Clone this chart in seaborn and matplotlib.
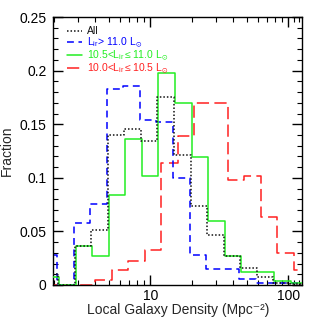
import numpy as np
import matplotlib
matplotlib.use("Agg")
import matplotlib.pyplot as plt
from matplotlib.ticker import FixedLocator, NullFormatter, FixedFormatter
import seaborn as sns

# ---- data (log10 of local galaxy density bin edges, and fractions per bin) ----
log_edges = [0.216, 0.336, 0.456, 0.576, 0.696, 0.816, 0.936, 1.056, 1.176,
             1.296, 1.416, 1.536, 1.656, 1.776, 1.896, 2.016, 2.136]
red_log_edges = [0.24, 0.36, 0.48, 0.60, 0.72, 0.84, 0.96, 1.08, 1.20, 1.32,
                 1.44, 1.56, 1.68, 1.80, 1.92, 2.04, 2.16]

frac_all = [0.010, 0.0, 0.0367, 0.0513, 0.140, 0.146, 0.1346, 0.175, 0.121,
            0.0735, 0.047, 0.027, 0.0155, 0.0078, 0.002, 0.001]
frac_hi = [0.028, 0.0, 0.058, 0.0756, 0.183, 0.186, 0.154, 0.152, 0.100,
           0.028, 0.0146, 0.0146, 0.0053, 0.0017, 0.0017, 0.0017]
frac_mid = [0.0077, 0.0, 0.0367, 0.0273, 0.084, 0.136, 0.102, 0.1975, 0.170,
            0.119, 0.060, 0.0273, 0.012, 0.012, 0.004, 0.0016]
frac_lo = [0.0, 0.0, 0.0, 0.0047, 0.014, 0.0224, 0.0327, 0.1135, 0.139, 0.170,
           0.170, 0.098, 0.102, 0.063, 0.030, 0.014]

series_labels = ["All",
                 r"L$_{ir}$> 11.0 L$_{\odot}$",
                 r"10.5<L$_{ir}$$\leq$11.0 L$_{\odot}$",
                 r"10.0<L$_{ir}$$\leq$10.5 L$_{\odot}$"]

y_ticks = [0, 0.05, 0.1, 0.15, 0.2, 0.25]
y_ticklabels = ["0", "0.05", "0.1", "0.15", "0.2", "0.25"]
x_ticks = [10, 100]
x_ticklabels = ["10", "100"]
x_label = "Local Galaxy Density (Mpc\u207b\u00b2)"
y_label = "Fraction"

# ---- style ----
sns.set_style("ticks")
plt.rcParams['font.family'] = ['Liberation Sans', 'DejaVu Sans']
plt.rcParams['mathtext.fontset'] = 'custom'
plt.rcParams['mathtext.rm'] = 'Liberation Sans'
plt.rcParams['mathtext.it'] = 'Liberation Sans:italic'
plt.rcParams['mathtext.bf'] = 'Liberation Sans:bold'
plt.rcParams['mathtext.default'] = 'regular'

fig = plt.figure(figsize=(3.19, 3.19), dpi=100)
ax = fig.add_axes([0.1677, 0.1066, 0.7790, 0.8400])
ax.set_xscale('log')


def step_xy(edges, vals, shift=0.0):
    x = 10 ** (np.asarray(edges, dtype=float) + shift)
    y = list(vals) + [vals[-1]]
    return x, y


specs = [
    (log_edges, frac_hi, -0.011, "#0000ff", (0, (4.5, 3)), 2, series_labels[1]),
    (log_edges, frac_mid, 0.003, "#22ee22", "-", 3, series_labels[2]),
    (red_log_edges, frac_lo, 0.0, "#ff2020", (0, (8, 3.5)), 1, series_labels[3]),
    (log_edges, frac_all, -0.004, "#111111", (0, (1, 1.3)), 4, series_labels[0]),
]
for edges, vals, sh, col, ls, z, lab in specs:
    x, y = step_xy(edges, vals, sh)
    sns.lineplot(x=x, y=y, ax=ax, drawstyle='steps-post', color=col,
                 linestyle=ls, linewidth=1.1, zorder=z, sort=True, label=lab)

ax.set_xlim(1.99, 125.7)
ax.set_ylim(0, 0.25)

# ticks
ax.yaxis.set_major_locator(FixedLocator(y_ticks))
ax.yaxis.set_major_formatter(FixedFormatter(y_ticklabels))
ax.yaxis.set_minor_locator(FixedLocator(np.arange(0, 0.2501, 0.01)))
ax.xaxis.set_major_locator(FixedLocator(x_ticks))
ax.xaxis.set_major_formatter(FixedFormatter(x_ticklabels))
minor_x = [v * d for d in (1, 10) for v in range(2, 10)] + [110, 120]
ax.xaxis.set_minor_locator(FixedLocator(minor_x))
ax.xaxis.set_minor_formatter(NullFormatter())
ax.tick_params(which='both', direction='in', top=True, right=True,
               colors='black', labelsize=10)
ax.tick_params(which='major', length=7, width=1.0, pad=5)
ax.tick_params(axis='x', which='major', pad=3.2)
ax.tick_params(which='minor', length=3.5, width=0.8)
for s in ax.spines.values():
    s.set_linewidth(1.0)
    s.set_color('black')

ax.set_xlabel(x_label, fontsize=10, labelpad=-0.4)
ax.set_ylabel(y_label, fontsize=10, labelpad=4)

# legend in reference order
handles, labels = ax.get_legend_handles_labels()
order = [labels.index(l) for l in series_labels]
leg = ax.legend([handles[i] for i in order], [labels[i] for i in order],
                loc='upper left', bbox_to_anchor=(0.055, 0.965),
                frameon=False, fontsize=7.5, handlelength=1.45,
                handletextpad=0.45, labelspacing=-0.1, borderpad=0,
                borderaxespad=0, labelcolor='linecolor')

fig.savefig("out.png", dpi=100)
